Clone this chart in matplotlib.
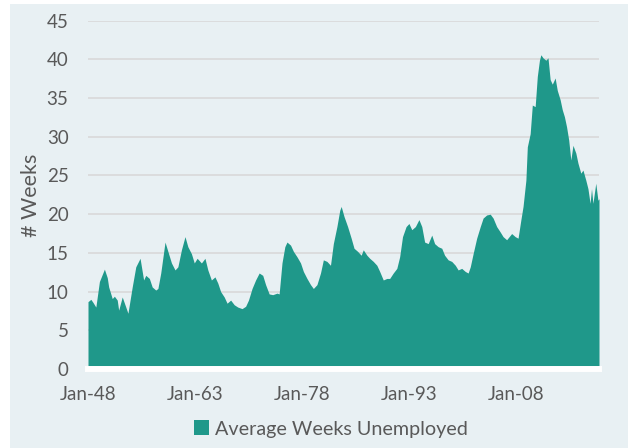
import matplotlib.pyplot as plt
from matplotlib.patches import Patch, Rectangle

# (fractional year, average weeks unemployed)
years = [
    1948.0, 1948.4, 1948.7, 1949.1, 1949.6, 1950.3, 1950.7, 1950.9, 1951.4, 1951.7,
    1952.1, 1952.3, 1952.8, 1953.3, 1953.6, 1954.2, 1954.7, 1955.3, 1955.8, 1956.1,
    1956.6, 1957.0, 1957.5, 1957.8, 1958.2, 1958.8, 1959.3, 1959.7, 1960.2, 1960.6,
    1961.1, 1961.6, 1962.0, 1962.5, 1962.9, 1963.3, 1963.9, 1964.4, 1964.8, 1965.3,
    1965.8, 1966.2, 1966.6, 1967.1, 1967.5, 1968.0, 1968.5, 1969.0, 1969.6, 1970.1,
    1970.5, 1971.0, 1971.5, 1972.0, 1972.5, 1972.9, 1973.4, 1973.9, 1974.5, 1974.8,
    1975.2, 1975.6, 1975.9, 1976.4, 1976.8, 1977.3, 1977.8, 1978.2, 1978.7, 1979.2,
    1979.6, 1980.1, 1980.6, 1981.0, 1981.5, 1982.0, 1982.4, 1982.9, 1983.3, 1983.5,
    1983.9, 1984.4, 1984.9, 1985.3, 1985.8, 1986.3, 1986.6, 1987.1, 1987.5, 1988.0,
    1988.5, 1988.9, 1989.4, 1989.9, 1990.3, 1990.8, 1991.3, 1991.7, 1992.1, 1992.6,
    1993.0, 1993.4, 1993.9, 1994.4, 1994.8, 1995.2, 1995.7, 1996.2, 1996.6, 1997.1,
    1997.6, 1998.0, 1998.5, 1999.0, 1999.5, 1999.9, 2000.4, 2000.9, 2001.3, 2001.6,
    2002.0, 2002.5, 2003.0, 2003.4, 2003.9, 2004.4, 2004.8, 2005.3, 2005.8, 2006.2,
    2006.7, 2007.4, 2007.9, 2008.3, 2008.7, 2009.0, 2009.4, 2009.6, 2010.0, 2010.3,
    2010.7, 2011.0, 2011.3, 2011.5, 2011.8, 2012.2, 2012.5, 2012.8, 2013.1, 2013.5,
    2013.8, 2014.2, 2014.5, 2014.8, 2015.1, 2015.4, 2015.7, 2016.0, 2016.4, 2016.7,
    2017.1, 2017.4, 2017.8, 2018.1, 2018.4, 2018.6, 2018.8, 2019.2, 2019.5, 2019.65,
]
weeks = [
    8.7, 9.0, 8.6, 8.0, 11.3, 12.9, 11.8, 10.6, 9.1, 9.4,
    8.9, 7.6, 9.3, 8.0, 7.2, 10.6, 13.2, 14.3, 11.5, 12.1,
    11.7, 10.6, 10.2, 10.4, 12.4, 16.4, 14.9, 13.7, 12.8, 13.2,
    15.4, 17.1, 15.8, 14.9, 13.7, 14.3, 13.7, 14.3, 12.8, 11.5,
    11.9, 11.1, 10.0, 9.3, 8.5, 8.9, 8.3, 8.0, 7.8, 8.1,
    8.9, 10.4, 11.5, 12.4, 12.1, 10.9, 9.7, 9.6, 9.8, 9.7,
    13.7, 15.8, 16.4, 16.0, 15.2, 14.5, 13.7, 12.6, 11.7, 10.9,
    10.4, 10.9, 12.4, 14.1, 13.9, 13.4, 16.2, 18.4, 20.5, 21.0,
    19.7, 18.4, 16.9, 15.6, 15.2, 14.7, 15.4, 14.7, 14.3, 13.9,
    13.4, 12.6, 11.5, 11.7, 11.7, 12.4, 13.0, 14.5, 17.1, 18.4,
    18.8, 18.0, 18.4, 19.3, 18.4, 16.4, 16.2, 17.3, 16.2, 15.8,
    15.6, 14.7, 14.1, 13.9, 13.4, 12.8, 13.0, 12.6, 12.4, 13.2,
    14.9, 16.9, 18.4, 19.5, 19.9, 20.0, 19.5, 18.4, 17.7, 17.1,
    16.7, 17.5, 17.1, 16.9, 19.3, 21.0, 24.4, 28.7, 30.4, 34.1,
    33.9, 37.8, 39.9, 40.6, 40.2, 39.9, 40.2, 37.4, 36.8, 37.6,
    36.0, 34.8, 33.5, 32.6, 31.3, 29.6, 27.0, 28.9, 27.9, 26.6,
    25.3, 25.7, 24.4, 23.3, 21.4, 23.3, 21.4, 24.0, 21.8, 22.0,
]
tick_years = [1948, 1963, 1978, 1993, 2008]
tick_labels = ["Jan-48", "Jan-63", "Jan-78", "Jan-93", "Jan-08"]

teal = "#1f988a"
grey_text = "#595959"
bg = "#e8f0f3"

plt.rcParams["font.family"] = ["Lato", "DejaVu Sans"]

fig = plt.figure(figsize=(6.28, 4.48), dpi=100)
fig.patch.set_facecolor("white")
fig.patches.append(Rectangle((10 / 628, 0), 618 / 628, 444 / 448,
                             transform=fig.transFigure, facecolor=bg,
                             edgecolor="none", zorder=-10))

ax = fig.add_axes([88 / 628, 79 / 448, 511 / 628, 348.3 / 448])
ax.set_facecolor("none")
ax.fill_between(years, weeks, 0, color=teal, linewidth=0, zorder=2)
ax.axhline(0, color="white", linewidth=4.3, zorder=3, clip_on=False)

ax.set_xlim(1948, 2019.65)
ax.set_ylim(0, 45)
ax.set_yticks(range(0, 50, 5))
ax.set_xticks(tick_years)
ax.set_xticklabels(tick_labels)
for v in range(5, 50, 5):
    ax.axhline(v, color="#d9d9d9", linewidth=1.2, zorder=1)

for s in ax.spines.values():
    s.set_visible(False)
ax.tick_params(axis="both", length=0, labelsize=13.5, colors=grey_text)
ax.tick_params(axis="y", pad=14)
ax.tick_params(axis="x", pad=12)
ax.set_ylabel("# Weeks", fontsize=15.5, color=grey_text, labelpad=4)

leg = fig.legend(handles=[Patch(facecolor=teal, label="Average Weeks Unemployed")],
                 loc="center", bbox_to_anchor=(331 / 628, 1 - 429 / 448),
                 frameon=False, fontsize=14.2, handlelength=0.75, handleheight=0.75,
                 handletextpad=0.3, labelcolor=grey_text)

fig.savefig("out.png", dpi=100)
